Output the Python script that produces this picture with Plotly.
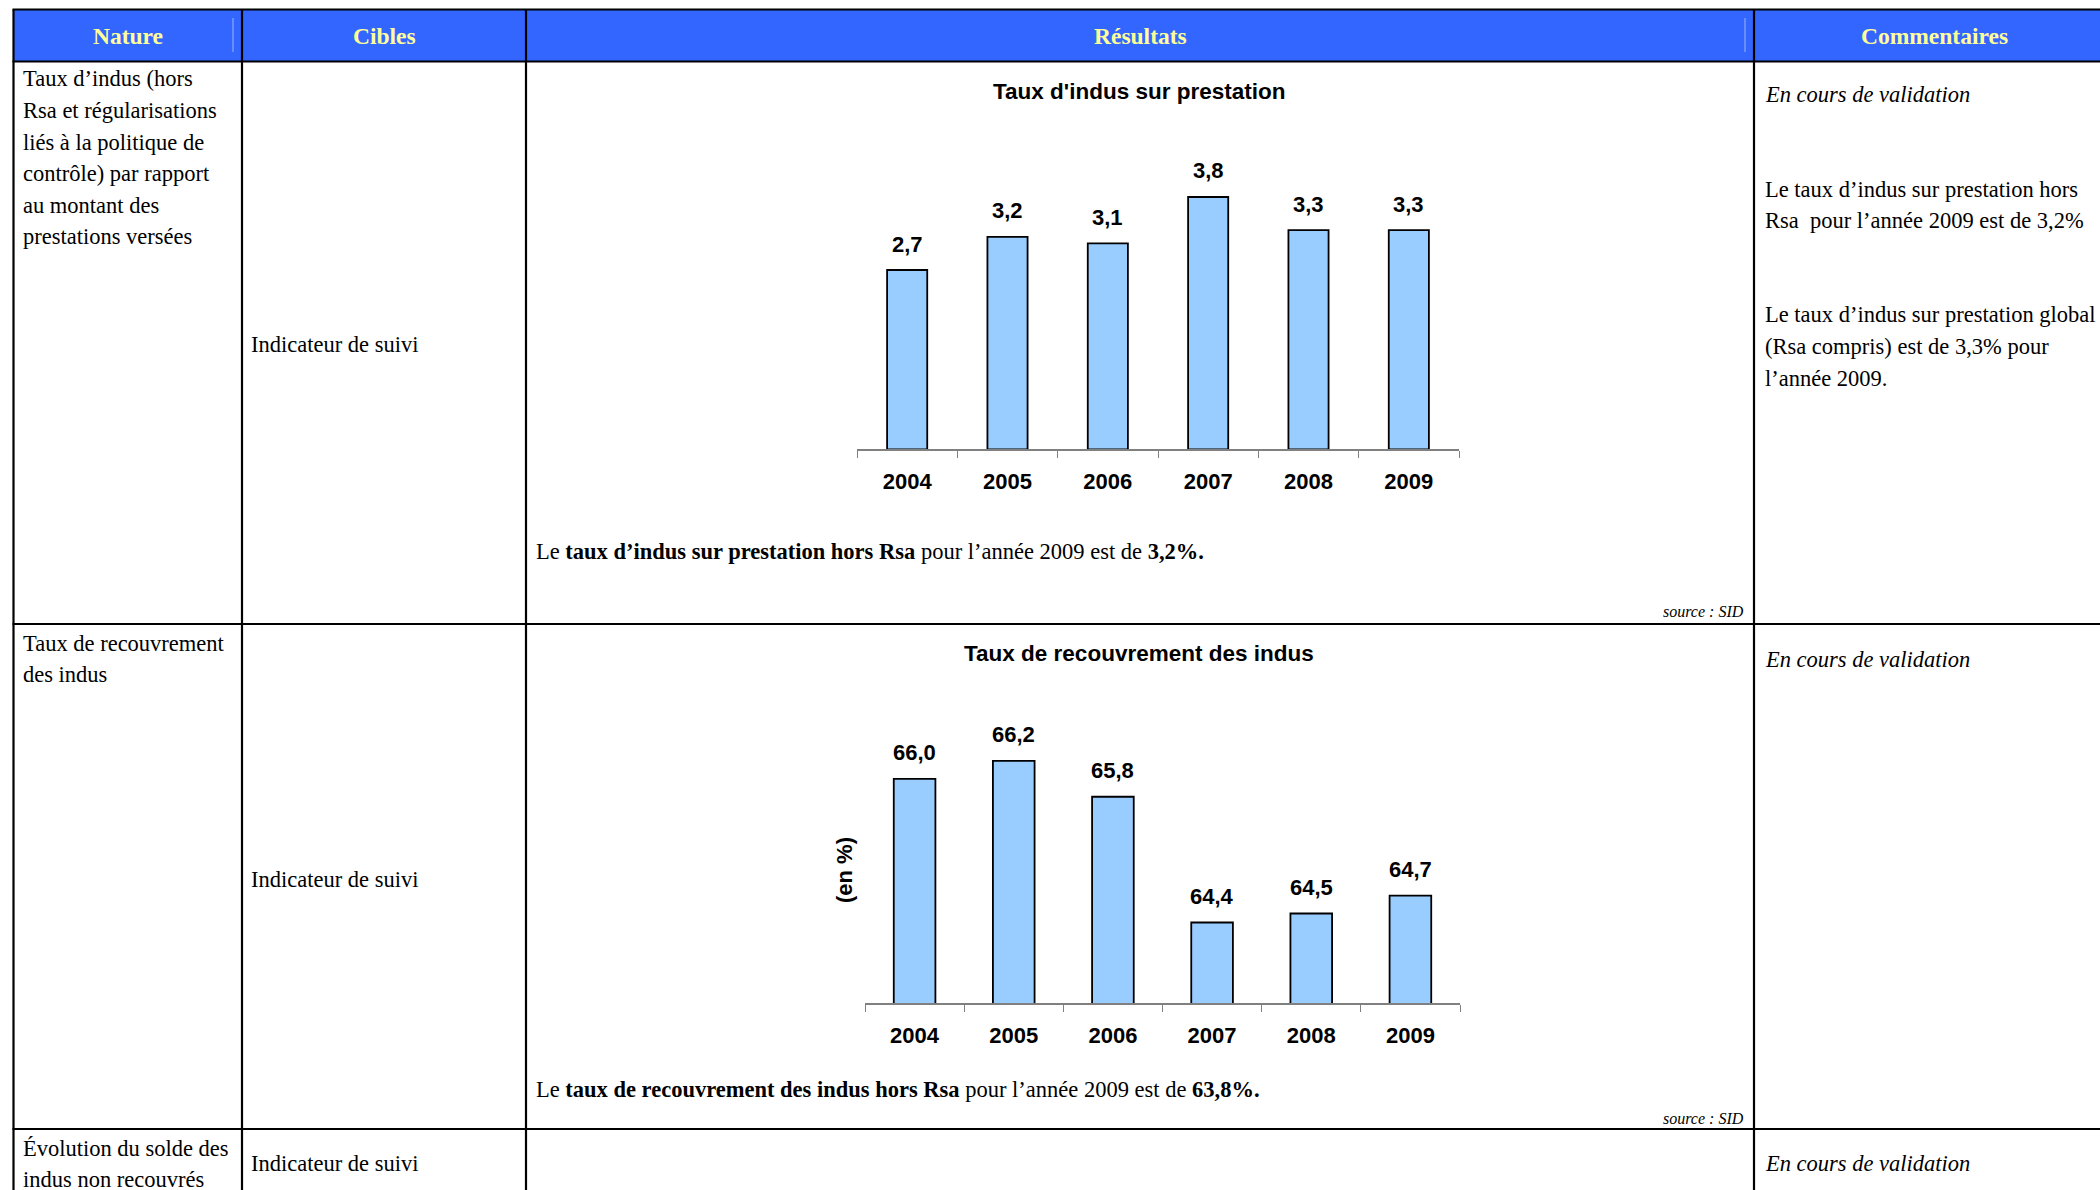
import plotly.graph_objects as go

# ---------------------------------------------------------------- data
years = ["2004", "2005", "2006", "2007", "2008", "2009"]
taux_indus = [2.7, 3.2, 3.1, 3.8, 3.3, 3.3]
taux_recouvrement = [66.0, 66.2, 65.8, 64.4, 64.5, 64.7]

headers = ["Nature", "Cibles", "Résultats", "Commentaires"]

nature_1 = ["Taux d’indus (hors", "Rsa et régularisations", "liés à la politique de",
            "contrôle) par rapport", "au montant des", "prestations versées"]
nature_2 = ["Taux de recouvrement", "des indus"]
nature_3 = ["Évolution du solde des", "indus non recouvrés"]
cible = "Indicateur de suivi"

title_1 = "Taux d'indus sur prestation"
title_2 = "Taux de recouvrement des indus"
unit_2 = "(en %)"

result_1 = "Le <b>taux d’indus sur prestation hors Rsa</b> pour l’année 2009 est de <b>3,2%.</b>"
result_2 = "Le <b>taux de recouvrement des indus hors Rsa</b> pour l’année 2009 est de <b>63,8%.</b>"
source = "<i>source : SID</i>"

pending = "<i>En cours de validation</i>"
comment_1a = ["Le taux d’indus sur prestation hors", "Rsa\u00a0 pour l’année 2009 est de 3,2%"]
comment_1b = ["Le taux d’indus sur prestation global", "(Rsa compris) est de 3,3% pour",
              "l’année 2009."]

# ---------------------------------------------------------------- page geometry
W, H = 2100, 1190
SERIF = "Liberation Serif, Times New Roman, serif"
SANS = "Liberation Sans, Arial, sans-serif"
BLUE = "#3366FF"
BAR = "#99CCFF"


def px(x):
    return x / W


def py(y):
    return 1 - y / H


TOP, HEAD_BOTTOM = 9.5, 61.5
COLS = [13.5, 242, 526, 1754]
ROWS = [624, 1129]

fig = go.Figure()

# ---------------------------------------------------------------- bar charts
fig.add_trace(go.Bar(
    x=years, y=taux_indus, xaxis="x", yaxis="y", width=0.4,
    marker=dict(color=BAR, line=dict(color="black", width=1.8)),
    hoverinfo="skip", showlegend=False,
))
fig.add_trace(go.Bar(
    x=years, y=taux_recouvrement, xaxis="x2", yaxis="y2", width=0.42,
    marker=dict(color=BAR, line=dict(color="black", width=1.8)),
    hoverinfo="skip", showlegend=False,
))

xaxis_style = dict(
    type="category", range=[-0.5, 5.5], showgrid=False, zeroline=False,
    showline=True, linecolor="#808080", linewidth=1.5,
    ticks="outside", tickson="boundaries", ticklen=7, tickcolor="#808080", tickwidth=1.2,
    tickfont=dict(family=SANS, size=22, color="black", weight="bold"),
    ticklabelstandoff=12, fixedrange=True,
)
yaxis_style = dict(visible=False, fixedrange=True)

# chart 1: base at y=449 px, 66.4 px per unit
base1, scale1, r1 = 449.3, 66.4, [0, 5]
# chart 2: base at y=1003 px, 89.8 px per unit
base2, scale2, r2 = 1003.3, 89.8, [63.5, 67.0]

fig.update_layout(
    xaxis=dict(domain=[px(857), px(1459)], anchor="y", **xaxis_style),
    yaxis=dict(domain=[py(base1), py(base1 - (r1[1] - r1[0]) * scale1)],
               range=r1, anchor="x", **yaxis_style),
    xaxis2=dict(domain=[px(865), px(1460)], anchor="y2", **xaxis_style),
    yaxis2=dict(domain=[py(base2), py(base2 - (r2[1] - r2[0]) * scale2)],
                range=r2, anchor="x2", **yaxis_style),
)

# ---------------------------------------------------------------- table shapes
shapes = [
    dict(type="rect", xref="paper", yref="paper", x0=px(COLS[0]), x1=1,
         y0=py(HEAD_BOTTOM), y1=py(TOP), fillcolor=BLUE, line=dict(width=0), layer="below"),
]
for xs in (233, 1745):
    shapes.append(dict(type="line", xref="paper", yref="paper", x0=px(xs), x1=px(xs),
                       y0=py(52), y1=py(18), line=dict(color="#9DB4FF", width=1)))
for yl in [TOP, HEAD_BOTTOM] + ROWS:
    shapes.append(dict(type="line", xref="paper", yref="paper", x0=px(COLS[0] - 1), x1=1,
                       y0=py(yl), y1=py(yl), line=dict(color="black", width=2.2)))
for xc in COLS:
    shapes.append(dict(type="line", xref="paper", yref="paper", x0=px(xc), x1=px(xc),
                       y0=0, y1=py(TOP), line=dict(color="black", width=2.2)))

# ---------------------------------------------------------------- text
ann = []


def text(x, y, s, size=22.5, family=SERIF, color="black", xanchor="left", **kw):
    ann.append(dict(xref="paper", yref="paper", x=px(x), y=py(y), text=s,
                    showarrow=False, xanchor=xanchor, yanchor="middle",
                    font=dict(family=family, size=size, color=color), **kw))


head_x = [128, 384, 1140, 1934]
for hx, h in zip(head_x, headers):
    text(hx, 36, f"<b>{h}</b>", size=23.5, color="#FFFF99", xanchor="center")

for i, line in enumerate(nature_1):
    text(21, 79 + 31.5 * i, line)
for i, line in enumerate(nature_2):
    text(21, 643 + 31 * i, line)
for i, line in enumerate(nature_3):
    text(21, 1148 + 31 * i, line)

for yc in (344, 879, 1163):
    text(249, yc, cible)

text(1763, 95, pending)
for i, line in enumerate(comment_1a):
    text(1763, 189 + 31.5 * i, line)
for i, line in enumerate(comment_1b):
    text(1763, 315 + 31.5 * i, line)
text(1763, 659, pending)
text(1763, 1163, pending)

text(534, 551, result_1)
text(534, 1089, result_2)
text(1746, 612, source, size=16, xanchor="right")
text(1746, 1118, source, size=16, xanchor="right")

# chart titles and unit label
text(1139, 92, f"<b>{title_1}</b>", size=22.5, family=SANS, xanchor="center")
text(1139, 653, f"<b>{title_2}</b>", size=22.5, family=SANS, xanchor="center")
text(844, 870, f"<b>{unit_2}</b>", size=22, family=SANS, xanchor="center", textangle=-90)


def fmt(v):
    return f"{v:.1f}".replace(".", ",")


# value labels above each bar (category axes are addressed by index)
for xa, ya, vals in (("x", "y", taux_indus), ("x2", "y2", taux_recouvrement)):
    for i, v in enumerate(vals):
        ann.append(dict(xref=xa, yref=ya, x=i, y=v, text=f"<b>{fmt(v)}</b>",
                        showarrow=False, xanchor="center", yanchor="middle", yshift=26,
                        font=dict(family=SANS, size=22, color="black")))

fig.update_layout(
    width=W, height=H, margin=dict(l=0, r=0, t=0, b=0),
    paper_bgcolor="white", plot_bgcolor="rgba(0,0,0,0)",
    shapes=shapes, annotations=ann, showlegend=False, bargap=0.6,
)

fig.write_html("out.html", config={"displayModeBar": False})
